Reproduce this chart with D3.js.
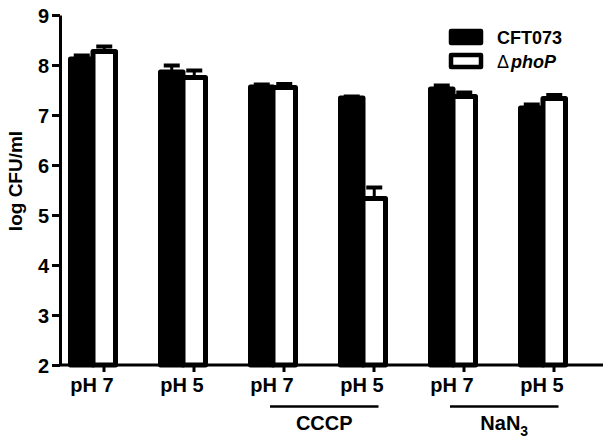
<!DOCTYPE html>
<html>
<head>
<meta charset="utf-8">
<script src="https://cdn.jsdelivr.net/npm/d3@7"></script>
<style>
  body { margin: 0; background: #fff; }
  svg text { font-family: "Liberation Sans", Arial, sans-serif; font-weight: bold; fill: #000; }
</style>
</head>
<body>
<div id="chart"></div>
<script>
// values (log CFU/ml, mean + upper error)
let groupKeys = ['g1', 'g2', 'g3', 'g4', 'g5', 'g6'];
let tickLabels = ['pH 7', 'pH 5', 'pH 7', 'pH 5', 'pH 7', 'pH 5'];
let wildType = [8.12, 7.86, 7.56, 7.34, 7.52, 7.14];
let wildTypeErr = [0.07, 0.13, 0.05, 0.03, 0.07, 0.07];
let phoP = [8.27, 7.75, 7.55, 5.33, 7.37, 7.33];
let phoPErr = [0.10, 0.14, 0.07, 0.22, 0.08, 0.07];
let yTicks = [2, 3, 4, 5, 6, 7, 8, 9];
let treatments = [
    { name: 'CCCP', sub: '', from: 'g3', to: 'g4' },
    { name: 'NaN', sub: '3', from: 'g5', to: 'g6' }
];
let seriesKeys = ['CFT073', 'phoP'];

let width = 610;
let height = 443;

let svg = d3.select('#chart')
    .append('svg')
    .attr('width', width)
    .attr('height', height);

let xScale = d3.scaleBand()
    .domain(groupKeys)
    .range([59, 599]);
let xSub = d3.scaleBand()
    .domain(seriesKeys)
    .range([11.5, 56.5]);
let yScale = d3.scaleLinear()
    .domain([2, 9])
    .range([365, 15]);

let rows = groupKeys.map((g, i) => ({
    key: g,
    values: [
        { series: 'CFT073', v: wildType[i], e: wildTypeErr[i] },
        { series: 'phoP', v: phoP[i], e: phoPErr[i] }
    ]
}));

let plot = svg.append('g').classed('plot', true);

let groupSel = plot.selectAll('.group')
    .data(rows)
    .enter()
    .append('g')
    .classed('group', true)
    .attr('transform', d => `translate(${xScale(d.key)},0)`);

let barSel = groupSel.selectAll('.bar')
    .data(d => d.values)
    .enter()
    .append('g')
    .classed('bar', true);

// error bars (upper half only)
barSel.append('line')
    .attr('x1', d => xSub(d.series) + xSub.bandwidth() / 2)
    .attr('x2', d => xSub(d.series) + xSub.bandwidth() / 2)
    .attr('y1', d => yScale(d.v))
    .attr('y2', d => yScale(d.v + d.e))
    .attr('stroke', '#000')
    .attr('stroke-width', 3);
barSel.append('line')
    .attr('x1', d => xSub(d.series) + xSub.bandwidth() / 2 - 8)
    .attr('x2', d => xSub(d.series) + xSub.bandwidth() / 2 + 8)
    .attr('y1', d => yScale(d.v + d.e))
    .attr('y2', d => yScale(d.v + d.e))
    .attr('stroke', '#000')
    .attr('stroke-width', 4);

barSel.append('rect')
    .attr('x', d => xSub(d.series))
    .attr('width', xSub.bandwidth())
    .attr('y', d => yScale(d.v))
    .attr('height', d => yScale(2) - yScale(d.v))
    .attr('fill', d => d.series === 'CFT073' ? '#000' : '#fff')
    .attr('stroke', '#000')
    .attr('stroke-width', 5)
    .attr('stroke-linejoin', 'round');

// y axis
let yAxis = d3.axisLeft(yScale)
    .tickValues(yTicks)
    .tickFormat(d3.format('d'))
    .tickSize(8)
    .tickSizeOuter(0)
    .tickPadding(3);
let yAxisGroup = svg.append('g')
    .classed('axis', true)
    .attr('transform', 'translate(60,0)')
    .call(yAxis);
yAxisGroup.select('.domain').attr('stroke-width', 3);
yAxisGroup.selectAll('.tick line').attr('stroke-width', 3);
yAxisGroup.selectAll('.tick text')
    .style('font-size', '20px')
    .attr('dy', '0.36em');

// x axis
let xAxis = d3.axisBottom(xScale)
    .tickFormat((d, i) => tickLabels[i])
    .tickSize(7)
    .tickSizeOuter(0)
    .tickPadding(6);
let xAxisGroup = svg.append('g')
    .classed('axis', true)
    .attr('transform', `translate(0,${yScale(2)})`)
    .call(xAxis);
xAxisGroup.select('.domain').remove();
xAxisGroup.append('line')
    .attr('x1', 60)
    .attr('x2', xScale.range()[1] + 4)
    .attr('stroke', '#000')
    .attr('stroke-width', 3);
xAxisGroup.selectAll('.tick line').attr('stroke-width', 3);
xAxisGroup.selectAll('.tick text')
    .attr('x', -12)
    .style('font-size', '20px');

// treatment brackets under the axis
let treatSel = svg.selectAll('.treatment')
    .data(treatments)
    .enter()
    .append('g')
    .classed('treatment', true);
let center = k => xScale(k) + xScale.bandwidth() / 2;
treatSel.append('line')
    .attr('x1', d => center(d.from) - 14)
    .attr('x2', d => center(d.to) + 4.5)
    .attr('y1', 406.5)
    .attr('y2', 406.5)
    .attr('stroke', '#000')
    .attr('stroke-width', 2.5);
let treatText = treatSel.append('text')
    .attr('x', d => (center(d.from) - 14 + center(d.to) + 4.5) / 2)
    .attr('y', 430)
    .attr('text-anchor', 'middle')
    .style('font-size', '20px');
treatText.append('tspan').text(d => d.name);
treatText.append('tspan')
    .attr('dy', 6)
    .style('font-size', '14px')
    .text(d => d.sub);

// y title
svg.append('text')
    .attr('transform', 'translate(22,181) rotate(-90)')
    .attr('text-anchor', 'middle')
    .style('font-size', '19px')
    .text('log CFU/ml');

// legend
let legend = svg.append('g')
    .classed('legend', true)
    .attr('transform', 'translate(451,31)');
let legendRow = legend.selectAll('.row')
    .data(seriesKeys)
    .enter()
    .append('g')
    .classed('row', true)
    .attr('transform', (d, i) => `translate(0,${i * 24})`);
legendRow.append('rect')
    .attr('width', 30)
    .attr('height', 12)
    .attr('fill', d => d === 'CFT073' ? '#000' : '#fff')
    .attr('stroke', '#000')
    .attr('stroke-width', 4.5)
    .attr('stroke-linejoin', 'round');
let legendText = legendRow.append('text')
    .attr('x', 46)
    .attr('y', 13)
    .style('font-size', '18px');
legendText.filter(d => d === 'CFT073').text(d => d);
let phoPText = legendText.filter(d => d === 'phoP');
phoPText.append('tspan')
    .style('font-weight', 'normal')
    .text('\u0394');
phoPText.append('tspan')
    .attr('dx', 2)
    .style('font-style', 'italic')
    .text('phoP');
</script>
</body>
</html>
